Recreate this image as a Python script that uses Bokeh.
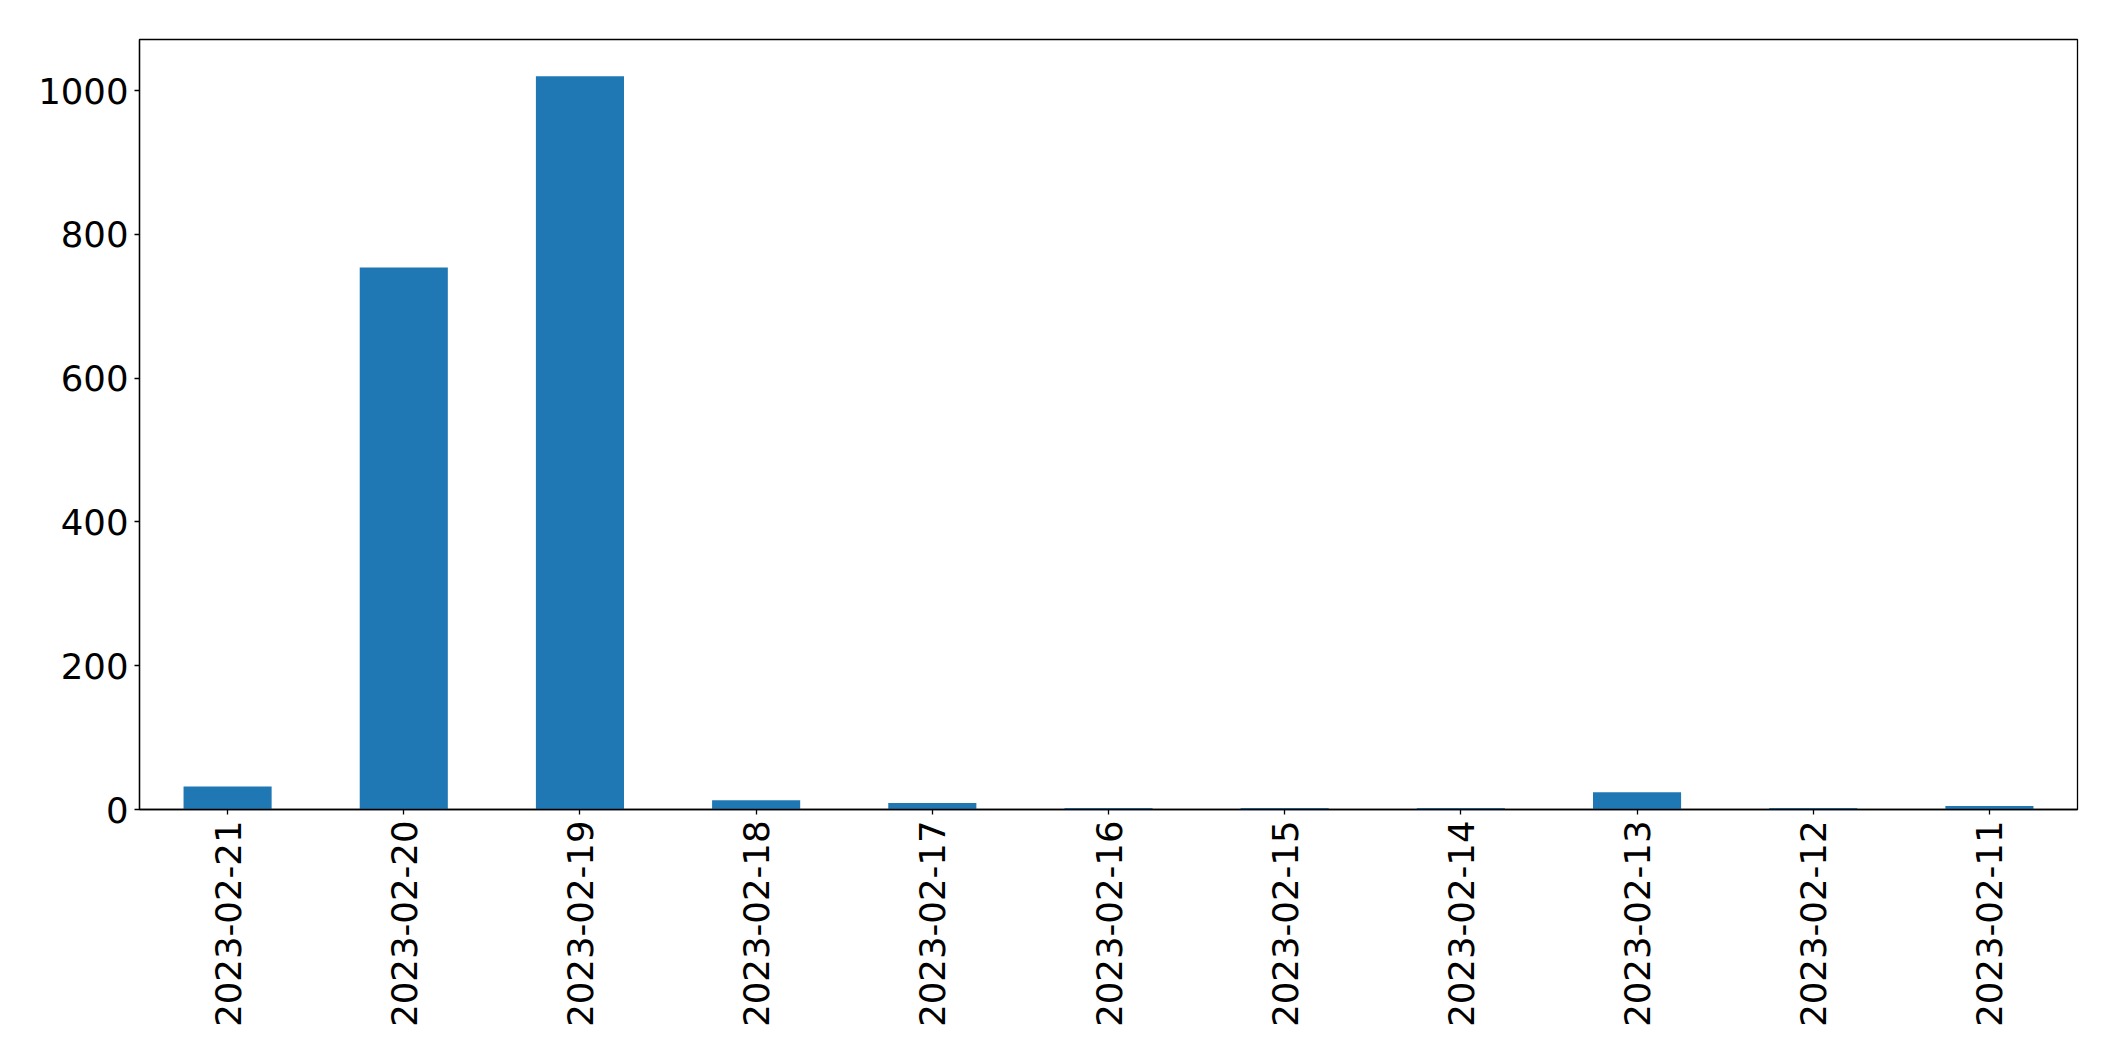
import math
from bokeh.plotting import figure
from bokeh.models import FactorRange, Range1d, FixedTicker, ColumnDataSource
from bokeh.embed import file_html
from bokeh.resources import INLINE

dates = ["2023-02-21", "2023-02-20", "2023-02-19", "2023-02-18", "2023-02-17",
         "2023-02-16", "2023-02-15", "2023-02-14", "2023-02-13", "2023-02-12",
         "2023-02-11"]
counts = [32, 754, 1020, 13, 9, 2, 2, 2, 24, 2, 5]
y_ticks = [0, 200, 400, 600, 800, 1000]

src = ColumnDataSource(dict(date=dates, count=counts))

p = figure(width=2099, height=1045, output_backend="svg", toolbar_location=None,
           x_range=FactorRange(factors=dates, range_padding=0),
           y_range=Range1d(0, max(counts) * 1.05),
           min_border_left=139, min_border_right=22, min_border_top=39,
           min_border_bottom=236)

p.vbar(x="date", top="count", width=0.5, source=src, color="#1f77b4", line_color=None)

p.xgrid.visible = False
p.ygrid.visible = False
p.outline_line_color = "black"
p.outline_line_width = 1.3
p.background_fill_color = "white"
p.border_fill_color = "white"

p.yaxis.ticker = FixedTicker(ticks=y_ticks)
for ax in (p.xaxis[0], p.yaxis[0]):
    ax.major_label_text_font = "DejaVu Sans"
    ax.major_label_text_font_size = "35.5px"
    ax.major_label_text_color = "black"
    ax.major_tick_out = 5
    ax.major_tick_in = 0
    ax.minor_tick_out = 0
    ax.minor_tick_in = 0
    ax.major_tick_line_color = "black"
    ax.major_tick_line_width = 1.3
    ax.axis_line_color = "black"
    ax.axis_line_width = 1.3
    ax.major_label_standoff = 6
p.xaxis.major_label_orientation = math.pi / 2

open("out.html", "w").write(file_html(p, INLINE))
